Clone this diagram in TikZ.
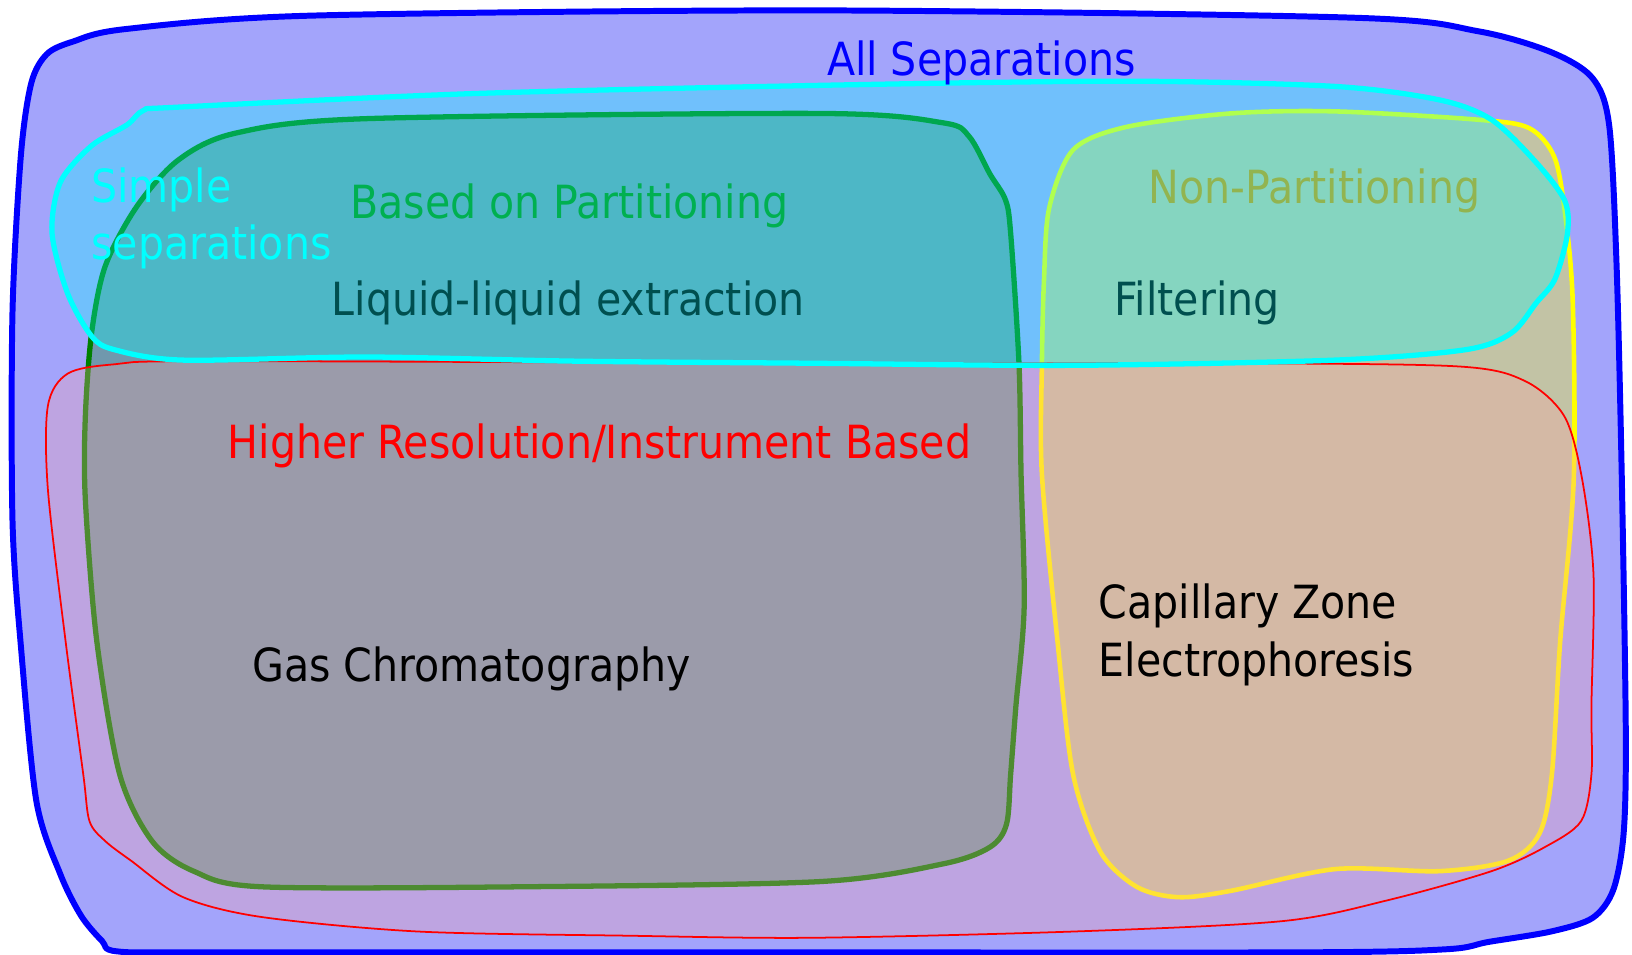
\documentclass[tikz,border=0pt]{standalone}
\usepackage{fontspec}
\setmainfont{DejaVu Sans Condensed}
\usepackage{tikz}
\usetikzlibrary{positioning}

\definecolor{sepblue}{RGB}{0,0,255}
\definecolor{sepfill}{RGB}{163,164,251}
\definecolor{partgreen}{RGB}{0,128,0}
\definecolor{nonyellow}{RGB}{255,255,0}
\definecolor{hirespink}{RGB}{255,165,165}
\definecolor{simplecyan}{RGB}{0,255,255}
\definecolor{parttext}{RGB}{0,176,80}
\definecolor{nontext}{RGB}{146,180,80}
\definecolor{deepteal}{RGB}{0,79,79}

\begin{document}
\begin{tikzpicture}[
    x=0.010408cm, y=-0.010408cm,
    region/.style={line join=round, fill opacity=0.32},
    label/.style={inner sep=0pt, align=left, font=\fontsize{13}{16.3}\selectfont},
]
\useasboundingbox (0,0) rectangle (1568,917);

% All separations
\draw[sepblue, fill=sepfill, line width=1.7pt, line join=round] plot[smooth cycle] coordinates {
  (45,52) (70,40) (120,28) (300,15) (788,10) (1300,17) (1420,30) (1490,50)
  (1530,75) (1546,120) (1553,250) (1558,450) (1562,700) (1560,800) (1550,855)
  (1530,882) (1490,895) (1430,905) (1390,912) (1250,915) (700,915) (200,915)
  (112,914) (98,904) (78,880) (58,840) (35,770) (20,620) (12,500) (12,300)
  (20,150) (30,80)};

% Based on partitioning
\draw[region, partgreen, fill=partgreen, fill opacity=0.31, line width=1.5pt] plot[smooth cycle] coordinates {
  (82,400) (88,320) (101,256) (131,199) (171,154) (226,128) (352,114) (788,109)
  (906,118) (931,131) (951,167) (966,192) (971,224) (979,349) (981,455) (984,583)
  (976,679) (971,744) (967,792) (951,814) (906,830) (788,847) (502,852) (251,852)
  (186,837) (146,808) (115,744) (93,616) (82,480)};

% Non-partitioning
\draw[region, nonyellow, fill=nonyellow, fill opacity=0.34, line width=1.3pt] plot[smooth cycle] coordinates {
  (1008,200) (1031,144) (1082,122) (1182,109) (1282,107) (1420,115) (1469,123)
  (1493,150) (1503,200) (1511,288) (1512,461) (1499,616) (1491,744) (1479,801)
  (1449,827) (1383,837) (1283,835) (1182,856) (1132,862) (1092,852) (1057,818)
  (1031,744) (1016,616) (1001,455) (1001,352) (1003,270)};

% Higher resolution
\draw[region, red, fill=hirespink, fill opacity=0.3, line width=0.5pt] plot[smooth cycle] coordinates {
  (65,359) (110,350) (201,347) (780,349) (1182,349) (1400,352) (1465,366)
  (1503,400) (1520,460) (1531,552) (1529,679) (1529,744) (1519,789) (1484,814)
  (1433,837) (1333,865) (1232,885) (1031,895) (780,901) (603,899) (402,895)
  (251,881) (176,862) (126,827) (101,808) (86,789) (80,744) (63,616) (46,470) (46,390)};

% Simple separations
\draw[region, simplecyan, fill=simplecyan, fill opacity=0.31, line width=1.5pt] plot[smooth cycle] coordinates {
  (170,103) (452,90) (788,82) (1082,78) (1282,83) (1383,96) (1433,115) (1474,154)
  (1503,192) (1506,224) (1494,268) (1476,291) (1452,320) (1408,336) (1282,346)
  (1031,351) (780,349) (553,347) (352,343) (176,346) (110,336) (88,323) (65,282)
  (50,224) (58,175) (88,140) (122,120) (138,106)};

% Set names
\node[label, sepblue] (allsep) at (943,60) {All Separations};
\node[label, simplecyan, anchor=west] (simple) at (87,210) {Simple\\separations};
\node[label, parttext] (partition) at (547,198) {Based on Partitioning};
\node[label, nontext] (nonpart) at (1263,183) {Non-Partitioning};
\node[label, red] (hires) at (576,428) {Higher Resolution/Instrument Based};

% Methods
\node[label, deepteal] (lle) at (546,291) {Liquid-liquid extraction};
\node[label, deepteal] (filter) at (1150,291) {Filtering};
\node[label] (gc) at (453,643) {Gas Chromatography};
\node[label, anchor=west] (cze) at (1055,610) {Capillary Zone\\Electrophoresis};

\end{tikzpicture}
\end{document}
